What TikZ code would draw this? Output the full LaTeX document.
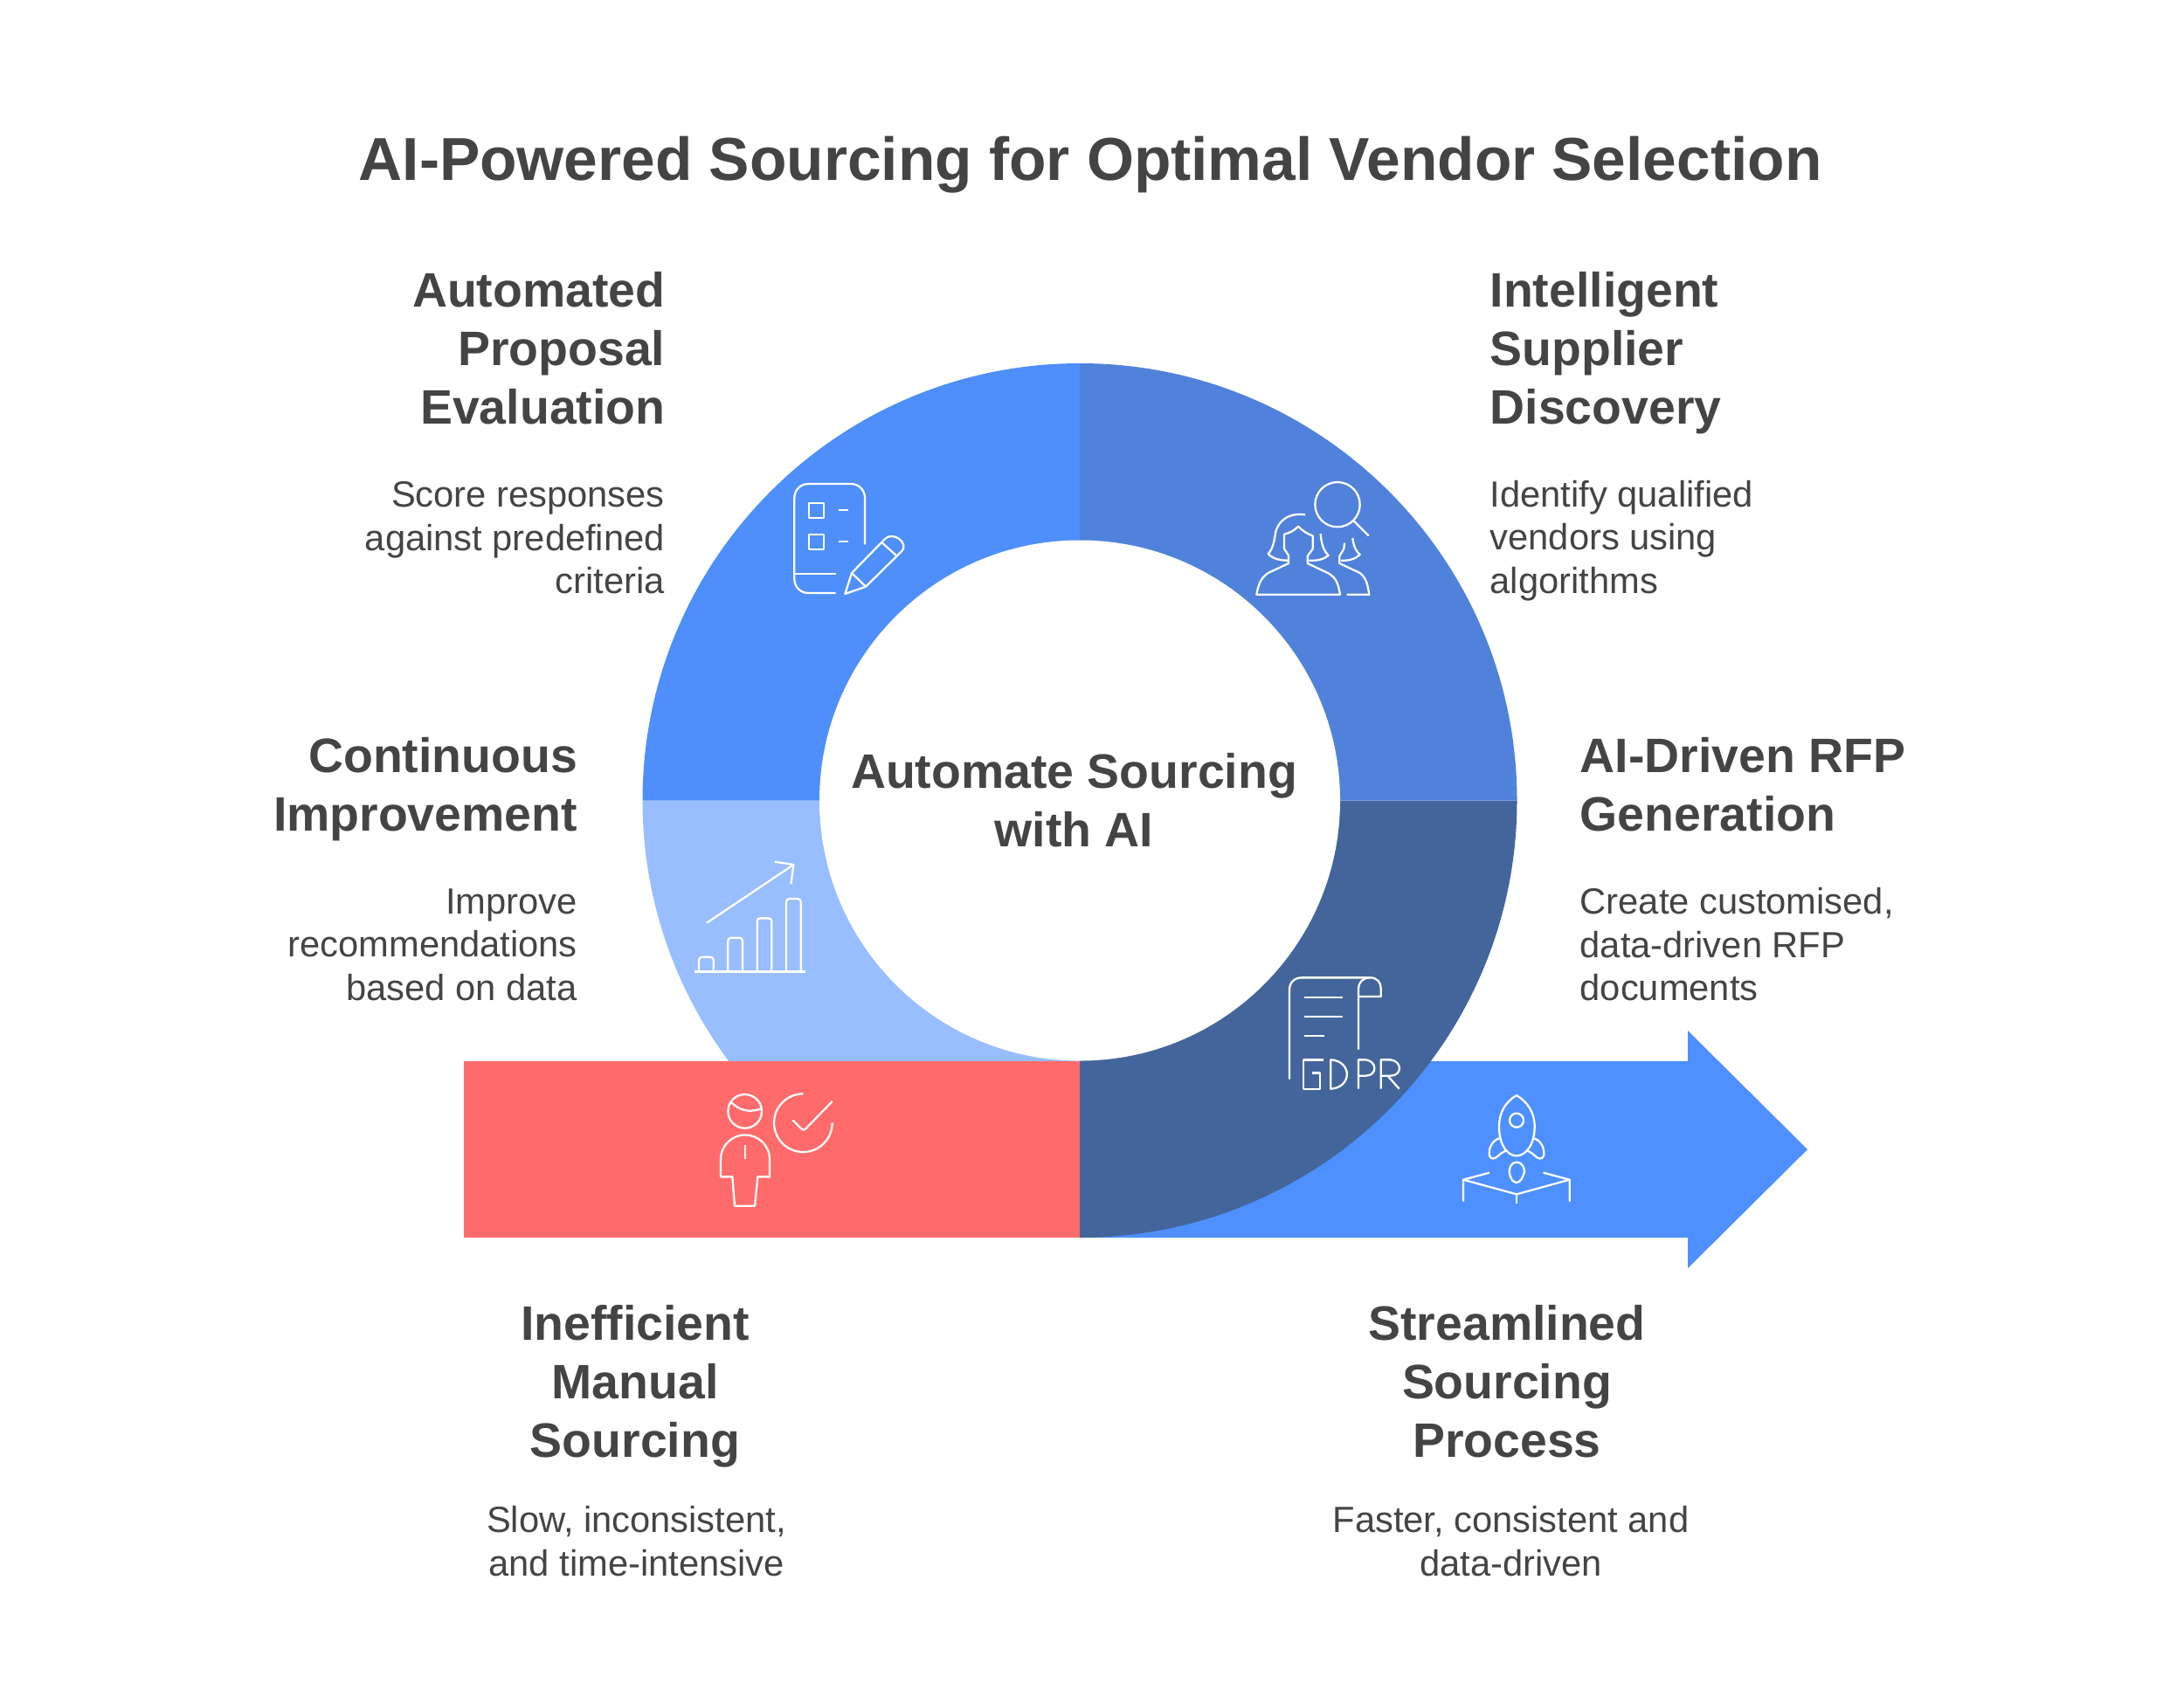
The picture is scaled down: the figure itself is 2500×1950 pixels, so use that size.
\documentclass[tikz,border=0pt]{standalone}
\usepackage{fontspec}
\setmainfont{Liberation Sans}
\usepackage{xcolor}
\definecolor{inktext}{RGB}{68,68,68}
\definecolor{ringblue}{RGB}{78,143,251}
\definecolor{ringmid}{RGB}{80,130,219}
\definecolor{ringdark}{RGB}{68,101,155}
\definecolor{ringlight}{RGB}{153,190,255}
\definecolor{softred}{RGB}{255,107,107}
\definecolor{arrowblue}{RGB}{78,144,255}
\tikzset{
  titletext/.style={text=inktext, inner sep=0pt, font=\fontsize{19.75}{23}\selectfont\bfseries},
  headtext/.style={text=inktext, inner sep=0pt, font=\fontsize{15.75}{19.06}\selectfont\bfseries},
  bodytext/.style={text=inktext, inner sep=0pt, font=\fontsize{11.85}{14.05}\selectfont},
  iconline/.style={white, line width=0.65pt, line join=round},
}
\begin{document}
\begin{tikzpicture}[x=0.01cm, y=-0.01cm]
  \useasboundingbox (0,0) rectangle (2500,1950);
  \fill[white] (0,0) rectangle (2500,1950);
  \coordinate (hub) at (1236,916.5);

  % ring and bar
  \fill[ringlight] (hub) -- ++(0,500.5) arc[start angle=90, end angle=180, radius=500.5] -- cycle;
  \fill[arrowblue] (1236,1215) -- (1932,1215) -- (1932,1180) -- (2069,1316) -- (1932,1452) -- (1932,1417) -- (1236,1417) -- cycle;
  \fill[softred] (531,1215) rectangle (1236,1417);
  \fill[ringdark] (hub) -- ++(500.5,0) arc[start angle=0, end angle=90, radius=500.5] -- cycle;
  \fill[ringblue] (hub) -- ++(-500.5,0) arc[start angle=180, end angle=270, radius=500.5] -- cycle;
  \fill[ringmid] (hub) -- ++(0,-500.5) arc[start angle=270, end angle=360, radius=500.5] -- cycle;
  \fill[white] (hub) circle (298);

  % texts
  \node[titletext] (mainTitle) at (1248,189) {AI-Powered Sourcing for Optimal Vendor Selection};
  \node[headtext, align=center] (hubText) at (1229.5,916) {Automate Sourcing\\with AI};

  \node[headtext, align=right, anchor=north east] (evalHead) at (762,311) {Automated\\Proposal\\Evaluation};
  \node[bodytext, align=right, anchor=north east] (evalText) at (761.5,551) {Score responses\\against predefined\\criteria};
  \node[headtext, align=left, anchor=north west] (discHead) at (1705,311) {Intelligent\\Supplier\\Discovery};
  \node[bodytext, align=left, anchor=north west] (discText) at (1705,549.5) {Identify qualified\\vendors using\\algorithms};
  \node[headtext, align=right, anchor=north east] (impHead) at (661.5,844) {Continuous\\Improvement};
  \node[bodytext, align=right, anchor=north east] (impText) at (661.5,1017) {Improve\\recommendations\\based on data};
  \node[headtext, align=left, anchor=north west] (rfpHead) at (1808,844) {AI-Driven RFP\\Generation};
  \node[bodytext, align=left, anchor=north west] (rfpText) at (1808,1016) {Create customised,\\data-driven RFP\\documents};
  \node[headtext, align=center, anchor=north] (manHead) at (727,1494) {Inefficient\\Manual\\Sourcing};
  \node[bodytext, align=center, anchor=north] (manText) at (728.5,1724) {Slow, inconsistent,\\and time-intensive};
  \node[headtext, align=center, anchor=north] (strHead) at (1725,1494) {Streamlined\\Sourcing\\Process};
  \node[bodytext, align=center, anchor=north] (strText) at (1729.5,1724) {Faster, consistent and\\data-driven};

  % checklist and pencil
  \begin{scope}[shift={(880,530)}, scale=1/3, iconline]
    \draw[rounded corners=4.5pt] (330,280) -- (330,72) -- (88,72) -- (88,447) -- (230,447);
    \draw (88,380) -- (230,380);
    \draw (137,138) rectangle (190,190);
    \draw (137,247) rectangle (190,298);
    \draw (240,163) -- (272,163);
    \draw (240,271) -- (272,271);
    \draw (262,450) -- (285,378) -- (398,262) .. controls (425,232) and (485,275) .. (455,305) -- (333,425) -- cycle;
    \draw (390,275) -- (440,320);
    \draw (285,378) -- (333,425);
  \end{scope}

  % people and lens
  \begin{scope}[shift={(1420,530)}, scale=1/3, iconline]
    \draw (333,143) circle (77);
    \draw (387,197) -- (440,250);
    \draw (222,178) .. controls (170,170) and (130,195) .. (120,240) .. controls (115,275) and (110,295) .. (95,313) .. controls (115,332) and (140,335) .. (165,335);
    \draw (150,295) -- (150,245) .. controls (170,240) and (185,232) .. (198,218) .. controls (212,232) and (230,245) .. (248,250) -- (248,295) -- (230,320) -- (230,345) -- (300,378) .. controls (330,395) and (335,415) .. (342,452) -- (55,452) .. controls (62,415) and (70,395) .. (95,378) -- (165,345) -- (165,318) -- cycle;
    \draw (275,243) .. controls (278,280) and (285,300) .. (302,318) .. controls (285,332) and (260,337) .. (235,335);
    \draw (357,275) -- (355,295) -- (340,320) -- (340,345) -- (410,378) .. controls (432,395) and (437,420) .. (442,452) -- (365,452);
    \draw (385,258) .. controls (388,285) and (395,302) .. (410,315) .. controls (395,330) and (370,337) .. (345,335);
  \end{scope}

  % bars and trend
  \begin{scope}[shift={(780,970)}, scale=1/3, iconline]
    \draw (87,260) -- (385,60);
    \draw (320,50) -- (385,60) -- (376,127);
    \foreach \barleft/\bartop in {60/377, 160/311, 260/244, 360/177}
      \draw[rounded corners=1pt] (\barleft,425) -- (\barleft,\bartop) -- ({\barleft+50},\bartop) -- ({\barleft+50},425);
    \draw (45,427) -- (425,427);
  \end{scope}

  % scroll with letters
  \begin{scope}[shift={(1460,1100)}, scale=1/3, iconline]
    \draw (48,407) -- (48,100) .. controls (48,75) and (65,58) .. (90,58) -- (325,58) .. controls (350,58) and (362,75) .. (362,95) -- (362,123) -- (285,123);
    \draw (285,305) -- (285,95) .. controls (285,75) and (300,58) .. (325,58);
    \draw (100,125) -- (232,125);
    \draw (100,191) -- (232,191);
    \draw (100,258) -- (167,258);
    \draw (165,340) -- (97,340) -- (97,440) -- (152,440) -- (152,385) -- (125,385);
    \draw (190,340) .. controls (264,345) and (264,435) .. (190,440) -- cycle;
    \draw (285,440) -- (285,340) -- (310,340) .. controls (350,345) and (350,395) .. (310,395) -- (285,395);
    \draw (362,440) -- (362,340) -- (395,340) .. controls (436,345) and (436,395) .. (395,395) -- (362,395);
    \draw (385,395) -- (425,440);
  \end{scope}

  % person and check
  \begin{scope}[shift={(810,1240)}, scale=1/3, iconline]
    \draw (128,97) circle (58);
    \draw (80,65) .. controls (115,100) and (150,100) .. (185,88);
    \draw (45,322) -- (45,262) .. controls (45,210) and (90,178) .. (128,178) .. controls (170,178) and (213,210) .. (213,262) -- (213,322) -- (172,322) -- (162,422) -- (93,422) -- (85,322) -- cycle;
    \draw (128,213) -- (128,262);
    \draw (328,37) arc[start angle=-90, end angle=-360, radius=100];
    \draw (292,127) -- (322,157) .. controls (327,162) and (332,162) .. (337,157) -- (428,63);
  \end{scope}

  % rocket
  \begin{scope}[shift={(1660,1240)}, scale=1/3, iconline]
    \draw (228,42) .. controls (265,65) and (290,100) .. (290,150) .. controls (290,210) and (260,250) .. (228,250) .. controls (195,250) and (168,210) .. (168,150) .. controls (168,100) and (190,65) .. (228,42) -- cycle;
    \draw (228,128) circle (24);
    \draw (170,190) .. controls (145,195) and (130,225) .. (135,250) .. controls (140,265) and (155,260) .. (165,250) .. controls (175,240) and (185,235) .. (192,232);
    \draw (286,190) .. controls (311,195) and (326,225) .. (321,250) .. controls (316,265) and (301,260) .. (291,250) .. controls (281,240) and (271,235) .. (264,232);
    \draw (228,272) .. controls (250,272) and (255,295) .. (255,305) .. controls (250,325) and (240,342) .. (228,342) .. controls (215,342) and (205,325) .. (203,305) .. controls (203,290) and (210,272) .. (228,272) -- cycle;
    \draw (135,308) -- (45,332) -- (45,407);
    \draw (45,332) -- (228,382) -- (410,332) -- (410,407);
    \draw (410,332) -- (320,308);
    \draw (228,382) -- (228,415);
  \end{scope}
\end{tikzpicture}
\end{document}
